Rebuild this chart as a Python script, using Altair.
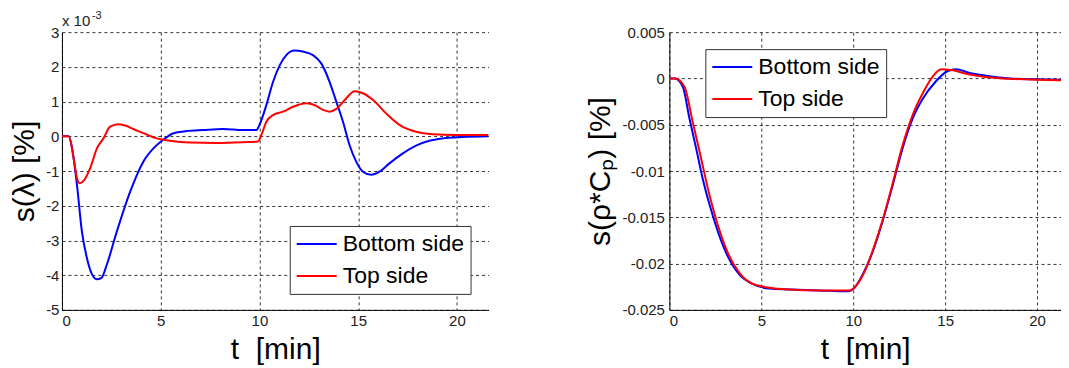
import altair as alt
import pandas as pd

# ---------------- data ----------------
# Left panel: s(lambda) [%], values in units of 1e-3
lam_bottom_t = [0, 0.34, 0.5, 0.76, 1.01, 1.26, 1.5, 1.77, 2.0, 2.27, 2.78, 3.45, 4.12, 4.63, 5.13, 5.64,
                6.31, 7.15, 8.16, 9.17, 9.85, 10.0, 10.35, 10.69, 11.03, 11.36, 11.78, 12.2, 12.71,
                13.13, 13.55, 13.89, 14.23, 14.56, 14.9, 15.24, 15.66, 16.08, 16.58, 17.26, 17.93,
                18.6, 19.28, 20.29, 21.6]
lam_bottom_v = [0, 0, -0.3, -1.4, -2.74, -3.5, -3.95, -4.12, -4.08, -3.7, -2.74, -1.6, -0.73, -0.35, -0.1, 0.09,
                0.15, 0.18, 0.21, 0.18, 0.18, 0.33, 0.9, 1.57, 2.05, 2.34, 2.47, 2.44, 2.34,
                2.1, 1.57, 1.0, 0.42, -0.25, -0.73, -1.02, -1.11, -1.02, -0.78, -0.49, -0.27,
                -0.13, -0.06, -0.02, 0.0]
lam_top_t = [0, 0.35, 0.59, 0.76, 0.89, 1.13, 1.43, 1.77, 2.1, 2.44, 2.86, 3.2, 3.62, 4.12, 4.8, 5.47,
             6.48, 7.83, 9.17, 9.93, 10.1, 10.35, 10.69, 11.2, 11.7, 12.37, 12.79, 13.22, 13.55,
             13.89, 14.39, 14.81, 15.24, 15.74, 16.41, 17.09, 17.93, 18.77, 19.95, 21.6]
lam_top_v = [0, 0, -0.63, -1.21, -1.35, -1.26, -0.92, -0.35, -0.06, 0.28, 0.35, 0.31, 0.21, 0.09, -0.06, -0.13,
             -0.18, -0.19, -0.17, -0.15, 0.04, 0.42, 0.61, 0.71, 0.85, 0.95, 0.9, 0.76, 0.71,
             0.79, 1.09, 1.3, 1.24, 1.05, 0.66, 0.33, 0.13, 0.06, 0.04, 0.04]

# Right panel: s(rho*Cp) [%]
rc_bottom_t = [0, 0.3, 0.73, 1.09, 1.45, 1.81, 2.18, 2.63, 3.17, 3.81, 4.53, 5.44, 6.53, 8.16, 9.61, 9.88,
               10.15, 10.61, 11.06, 11.6, 12.15, 12.69, 13.24, 13.78, 14.5, 15.14, 15.59, 16.32,
               17.22, 18.5, 19.94, 21.6]
rc_bottom_v = [0, 0, -0.0009, -0.0043, -0.0075, -0.0108, -0.0136, -0.0165, -0.0192, -0.0212, -0.0222,
               -0.0227, -0.0228, -0.0229, -0.0230, -0.0229, -0.0224, -0.0208, -0.0187, -0.0154,
               -0.0115, -0.0075, -0.0043, -0.0022, -0.0003, 0.0008, 0.0010, 0.0006, 0.0003, 0.0,
               -0.0001, -0.00015]
rc_top_t = [0, 0.32, 0.82, 1.27, 1.72, 2.18, 2.63, 3.17, 3.81, 4.53, 5.44, 6.53, 8.16, 9.79, 10.15,
            10.61, 11.06, 11.6, 12.15, 12.69, 13.24, 13.78, 14.32, 14.78, 15.32, 16.32, 18.13,
            21.6]
rc_top_v = [0, 0, -0.0009, -0.0047, -0.0086, -0.0126, -0.0158, -0.0188, -0.0210, -0.0222, -0.0226,
            -0.0228, -0.0229, -0.0229, -0.0224, -0.0209, -0.0186, -0.0153, -0.0113, -0.0072,
            -0.0039, -0.0016, 0.0002, 0.0010, 0.0009, 0.00043, 0.0, -0.0002]

series_names = ["Bottom side", "Top side"]
series_colors = ["#0000ff", "#ff0000"]
x_ticks = [0, 5, 10, 15, 20]
lam_ticks = [-5, -4, -3, -2, -1, 0, 1, 2, 3]
rc_ticks = [0.005, 0, -0.005, -0.01, -0.015, -0.02, -0.025]

FONT = "Liberation Sans"


def frame(t, v, name):
    return pd.DataFrame({"t": t, "v": v, "series": name})


def legend(x, y):
    return alt.Legend(title=None, orient="none", legendX=x, legendY=y,
                      symbolType="stroke", symbolSize=1600, symbolStrokeWidth=2,
                      labelFont=FONT, labelFontSize=23, labelColor="#000",
                      labelOffset=5, clipHeight=24, rowPadding=8, padding=6,
                      strokeColor="#333", fillColor="#ffffff", cornerRadius=0)


def encodings(ydom, yvals, xdom, ytitle, ylabpad, ytitlepad):
    x = alt.X("t:Q", scale=alt.Scale(domain=xdom, nice=False, zero=False),
              axis=alt.Axis(values=x_ticks, title="t\u00a0\u00a0[min]",
                            labelPadding=4, titlePadding=6, tickCount=len(x_ticks)))
    y = alt.Y("v:Q", scale=alt.Scale(domain=ydom, nice=False, zero=False),
              axis=alt.Axis(values=yvals, title=ytitle, labelExpr="'' + datum.value",
                            labelOverlap=False, tickCount=len(yvals),
                            labelPadding=ylabpad, titlePadding=ytitlepad))
    return x, y


def lines(df_b, df_t, x, y, lx, ly):
    out = []
    for df in (df_b, df_t):
        out.append(
            alt.Chart(df).mark_line(strokeWidth=2, interpolate="monotone", clip=True).encode(
                x=x, y=y,
                color=alt.Color("series:N",
                                scale=alt.Scale(domain=series_names, range=series_colors),
                                legend=legend(lx, ly))))
    return out


lx_enc, ly_enc = encodings([-5, 3], lam_ticks, [0, 21.6], "s(λ) [%]", 3, 6)
left_layers = lines(frame(lam_bottom_t, lam_bottom_v, "Bottom side"),
                    frame(lam_top_t, lam_top_v, "Top side"), lx_enc, ly_enc, 228, 194)

anchor = pd.DataFrame({"t": [0], "v": [3]})
mult_main = alt.Chart(anchor).mark_text(
    text="x 10", align="left", baseline="alphabetic", font=FONT, fontSize=15,
    color="#222", dy=-6, dx=0).encode(x=lx_enc, y=ly_enc)
mult_exp = alt.Chart(anchor).mark_text(
    text="-3", align="left", baseline="alphabetic", font=FONT, fontSize=11,
    color="#222", dy=-13, dx=30).encode(x=lx_enc, y=ly_enc)

left = alt.layer(*left_layers, mult_main, mult_exp).properties(width=427, height=278)

rx_enc, ry_enc = encodings([-0.025, 0.005], rc_ticks, [0, 21.3], "s(ρ*Cₚ) [%]", 5, 6)
right_layers = lines(frame(rc_bottom_t, rc_bottom_v, "Bottom side"),
                     frame(rc_top_t, rc_top_v, "Top side"), rx_enc, ry_enc, 36, 17)
right = alt.layer(*right_layers).properties(width=392, height=278)

chart = alt.hconcat(left, right, spacing=181, bounds="flush").resolve_scale(
    color="independent").resolve_legend(color="independent").properties(
    padding={"left": 1, "top": 2, "right": 0, "bottom": 0}
).configure_axis(
    labelFont=FONT, labelFontSize=15, labelColor="#222",
    titleFont=FONT, titleFontSize=30, titleFontWeight="normal", titleColor="#000",
    domainColor="#000", domainWidth=1,
    gridColor="#333", gridDash=[3, 3], gridWidth=1, gridOpacity=1,
    ticks=False
).configure_view(stroke=None)

chart.save("out.html", embed_options={"renderer": "svg", "actions": False})
